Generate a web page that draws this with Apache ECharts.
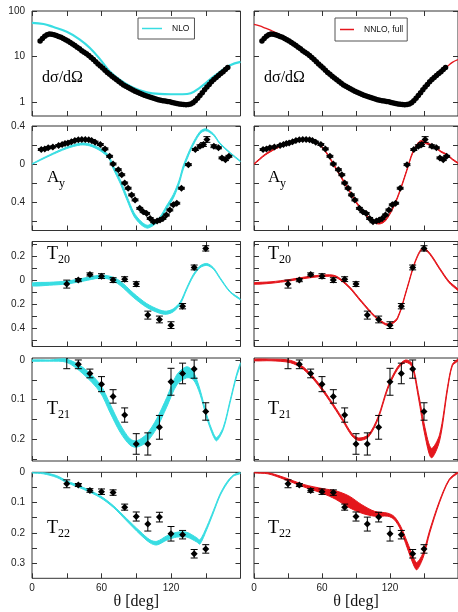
<!DOCTYPE html>
<html>
<head>
<meta charset="utf-8">
<script src="https://cdn.jsdelivr.net/npm/echarts@6/dist/echarts.min.js"></script>
<style>
  html, body { margin: 0; padding: 0; background: #fff; }
  #c { width: 458px; height: 612px; }
</style>
</head>
<body>
<div id="c"></div>
<script>
// ---------------- measured data ----------------
// differential cross section dσ/dΩ
const dsdoTheta = [7,9,11,13,15,17,19,21,23,25,27,29,31,33,35,37,39,41,43,45,47,49,51,53,55,57,59,61,63,65,67,69,71,73,75,77,79,81,83,85,87,89,91,93,95,97,99,101,103,105,107,109,111,113,115,117,119,121,123,125,127,129,131,133,135,137,139,141,143,145,147,149,151,153,155,157,159,161,163,165,167,169];
const dsdoValue = [22,25,28,30,31.5,31,30,29,27.5,26.5,25,23.5,22,20.5,19,17.5,16,14.8,13.5,12.4,11.5,10.6,9.6,8.6,7.7,6.9,6.2,5.6,5.0,4.5,4.1,3.7,3.4,3.1,2.85,2.6,2.4,2.25,2.1,1.98,1.85,1.75,1.65,1.57,1.5,1.43,1.37,1.32,1.27,1.22,1.18,1.14,1.11,1.08,1.06,1.04,1.02,0.99,0.96,0.94,0.92,0.9,0.89,0.88,0.89,0.92,0.98,1.08,1.22,1.4,1.62,1.88,2.15,2.45,2.8,3.15,3.5,3.85,4.25,4.65,5.2,5.8];

// vector analyzing power A_y
const ayTheta = [8,11,14,18,23,26,28.5,31,34,37,40,43,46,49,51.5,54.5,59,63,67,70,74.5,77.5,80,83,86,89,93,96,99,102,105,108,110.5,113,116,119,122,125,129,135,141,145,148,151,157,161,164,167,170];
const ayValue = [0.152,0.159,0.17,0.18,0.194,0.205,0.216,0.222,0.233,0.247,0.254,0.258,0.258,0.254,0.247,0.23,0.205,0.159,0.081,0.0,-0.06,-0.113,-0.2,-0.255,-0.325,-0.378,-0.467,-0.502,-0.52,-0.573,-0.608,-0.6,-0.59,-0.573,-0.537,-0.484,-0.43,-0.413,-0.255,-0.007,0.152,0.187,0.205,0.258,0.187,0.17,0.064,0.046,0.081];
const ayError = [0.01,0.01,0.01,0.01,0.01,0.01,0.01,0.01,0.01,0.01,0.01,0.01,0.01,0.01,0.01,0.01,0.01,0.01,0.01,0.01,0.01,0.01,0.01,0.01,0.01,0.01,0.01,0.01,0.01,0.01,0.01,0.01,0.01,0.01,0.01,0.01,0.01,0.01,0.01,0.01,0.01,0.015,0.02,0.03,0.015,0.01,0.01,0.01,0.01];

// tensor analyzing powers
const polTheta = [30,40,50,60,70,80,90,100,110,120,130,140,150];
const t20Value = [-0.033,0.0,0.047,0.033,0.0,0.008,-0.033,-0.29,-0.326,-0.373,-0.216,0.105,0.263];
const t20Error = [0.033,0.013,0.013,0.02,0.02,0.02,0.02,0.033,0.028,0.028,0.022,0.02,0.022];
const t21Value = [0.006,-0.011,-0.034,-0.061,-0.092,-0.139,-0.212,-0.212,-0.17,-0.055,-0.034,-0.023,-0.13];
const t21Error = [0.028,0.011,0.011,0.019,0.017,0.018,0.026,0.028,0.03,0.034,0.026,0.023,0.022];
const t22Value = [-0.038,-0.042,-0.06,-0.064,-0.067,-0.115,-0.146,-0.171,-0.148,-0.203,-0.206,-0.269,-0.253];
const t22Error = [0.013,0.005,0.006,0.009,0.009,0.01,0.015,0.023,0.016,0.024,0.014,0.014,0.014];

// ---------------- theory: NLO ----------------
const dsdoNloTheta = [0,10,18,30,41,50,59,67,76,87,99,110,120,130,137,145,154,162,171,180];
const dsdoNloValue = [55,52,45,35,24,15.5,8.6,4.8,3.1,2.1,1.65,1.52,1.5,1.5,1.58,2.1,3.2,4.6,6.5,7.7];

const ayNloTheta = [0,15,30,42,50,59,66,70,76,82,88,94,99.5,105,110.5,116,122,127,130.5,137.5,145,150,156.6,162,171,180];
const ayNloLow  = [-0.003,0.084,0.162,0.2,0.19,0.138,0.065,-0.048,-0.2,-0.38,-0.55,-0.638,-0.675,-0.645,-0.585,-0.478,-0.36,-0.21,-0.06,0.155,0.318,0.35,0.302,0.214,0.112,0.024];
const ayNloHigh = [0.003,0.096,0.178,0.22,0.21,0.162,0.095,-0.012,-0.16,-0.34,-0.51,-0.602,-0.645,-0.615,-0.555,-0.442,-0.32,-0.17,-0.02,0.185,0.342,0.37,0.318,0.226,0.122,0.032];

const t20NloTheta = [0,15,30,45,58,67,76,87.5,99,110,116,122,128,133.6,139.3,145,150.9,156.6,162.3,171,180];
const t20NloLow  = [-0.048,-0.042,-0.032,-0.007,0.016,0.007,-0.043,-0.143,-0.226,-0.274,-0.283,-0.262,-0.2,-0.078,0.032,0.102,0.122,0.091,0.012,-0.101,-0.164];
const t20NloHigh = [-0.024,-0.018,-0.008,0.017,0.04,0.033,-0.007,-0.107,-0.194,-0.246,-0.257,-0.238,-0.18,-0.062,0.048,0.118,0.138,0.103,0.022,-0.093,-0.156];

const t21NloTheta = [0,15,30,44,58.7,67.4,76,84.6,90.4,99,107.7,116.3,125,133.6,139.3,145,150.9,156.6,159.5,165.2,171,176.7,180];
const t21NloLow  = [-0.003,-0.003,-0.006,-0.035,-0.081,-0.133,-0.182,-0.215,-0.22,-0.207,-0.172,-0.119,-0.063,-0.045,-0.05,-0.086,-0.147,-0.193,-0.204,-0.175,-0.108,-0.041,-0.013];
const t21NloHigh = [0.0,0.0,0.002,-0.019,-0.061,-0.111,-0.162,-0.199,-0.204,-0.187,-0.148,-0.095,-0.037,-0.017,-0.03,-0.074,-0.139,-0.185,-0.196,-0.169,-0.102,-0.035,-0.007];

const t22NloTheta = [0,9.8,21.3,30,44.3,58.7,70.2,81.8,93.3,101.9,107.7,116.3,125,133.6,142.2,145,150.9,156.6,162.3,168.1,173.8,180];
const t22NloLow  = [-0.002,-0.005,-0.017,-0.034,-0.056,-0.083,-0.116,-0.161,-0.205,-0.233,-0.24,-0.224,-0.214,-0.214,-0.23,-0.237,-0.189,-0.134,-0.078,-0.039,-0.013,-0.004];
const t22NloHigh = [0.0,-0.001,-0.011,-0.028,-0.05,-0.077,-0.11,-0.153,-0.195,-0.223,-0.228,-0.21,-0.198,-0.198,-0.216,-0.223,-0.179,-0.126,-0.072,-0.033,-0.009,0.0];

// ---------------- theory: NNLO, full ----------------
const dsdoNnloTheta = [0,5,10,15,20,30,40,50,60,70,80,90,100,110,120,130,135,140,145,150,155,160,165,170,175,180];
const dsdoNnloValue = [51,47,42,37.5,33,24,15.5,10.1,5.9,3.7,2.4,1.75,1.38,1.16,1.02,0.9,0.89,0.98,1.3,1.85,2.6,3.5,4.6,5.9,7.5,8.6];

const ayNnloTheta = [0,10,20,30,40,45,50,55,60,65,70,75,80,85,90,95,100,105,110,115,120,125,130,135,140,145,148,152,158,165,170,175,180];
const ayNnloLow  = [-0.004,0.094,0.164,0.214,0.249,0.256,0.249,0.224,0.174,0.094,-0.008,-0.108,-0.208,-0.308,-0.408,-0.488,-0.558,-0.61,-0.632,-0.61,-0.528,-0.408,-0.248,-0.068,0.112,0.212,0.232,0.212,0.184,0.125,0.095,0.045,0.006];
const ayNnloHigh = [0.004,0.106,0.176,0.226,0.261,0.268,0.261,0.236,0.186,0.106,0.008,-0.092,-0.192,-0.292,-0.392,-0.472,-0.542,-0.59,-0.608,-0.59,-0.512,-0.392,-0.232,-0.052,0.128,0.228,0.248,0.228,0.196,0.135,0.105,0.055,0.014];

const t20NnloTheta = [0,15,32,45,60.8,72,83.7,95,106.5,115,119.4,126.5,135,142.2,148.8,155,163.7,172,180];
const t20NnloLow  = [-0.034,-0.026,-0.006,0.014,0.03,0.024,-0.061,-0.186,-0.306,-0.366,-0.374,-0.324,-0.076,0.146,0.257,0.214,0.091,-0.02,-0.086];
const t20NnloHigh = [-0.022,-0.014,0.006,0.026,0.042,0.036,-0.049,-0.174,-0.294,-0.354,-0.362,-0.312,-0.064,0.158,0.269,0.226,0.103,-0.008,-0.074];

const t21NnloTheta = [0,15,32.3,43.7,55.1,66.6,78,86.5,92.3,100.8,109.4,118,126.6,133.7,139.4,145,150.8,156.5,163.7,170.8,175,180];
const t21NnloLow  = [-0.002,-0.002,-0.007,-0.024,-0.058,-0.103,-0.153,-0.192,-0.203,-0.195,-0.15,-0.074,-0.024,-0.006,-0.017,-0.094,-0.19,-0.247,-0.205,-0.075,-0.015,-0.002];
const t21NnloHigh = [0.002,0.002,-0.001,-0.018,-0.052,-0.097,-0.147,-0.186,-0.197,-0.189,-0.144,-0.068,-0.018,0.0,-0.009,-0.082,-0.17,-0.223,-0.189,-0.067,-0.011,0.002];

const t22NnloTheta = [0,12.3,26.6,43.7,60.8,72,83.7,95.1,106.5,118,123.7,129.4,135.1,140.8,143.7,149.4,155.1,163.7,172.2,180];
const t22NnloLow  = [-0.002,-0.005,-0.023,-0.048,-0.07,-0.089,-0.116,-0.135,-0.145,-0.145,-0.156,-0.19,-0.249,-0.306,-0.322,-0.28,-0.2,-0.1,-0.027,-0.002];
const t22NnloHigh = [0.002,-0.001,-0.017,-0.04,-0.054,-0.061,-0.078,-0.107,-0.129,-0.135,-0.146,-0.178,-0.229,-0.282,-0.298,-0.264,-0.19,-0.094,-0.023,0.002];

// ---------------- appearance ----------------
const NLO_COLOR = '#38dde2';
const NNLO_COLOR = '#e4161c';
const FRAME = '#333';
const SANS = '"Liberation Sans", Arial, sans-serif';
const SERIF = '"Liberation Serif", "Times New Roman", serif';

const COLS = [
  { left: 32, width: 208.5, name: 'NLO', color: NLO_COLOR, labels: true },
  { left: 254, width: 210, name: 'NNLO, full', color: NNLO_COLOR, labels: false }
];

const fmtAbs = v => { const a = Math.abs(v); return a < 1e-9 ? '0' : String(+a.toFixed(2)); };

const ROWS = [
  { top: 11, height: 105, log: true, min: 0.5, max: 100, ticks: [1, 10, 100], labels: [1, 10, 100],
    main: 'dσ/dΩ', sub: '', size: 16, labelY: 70 },
  { top: 126, height: 104.5, min: -0.7, max: 0.4, ticks: [-0.6,-0.4,-0.2,0,0.2,0.4], labels: [-0.4,0,0.4],
    main: 'A', sub: 'y', size: 17, labelY: 169 },
  { top: 241.5, height: 105, min: -0.55, max: 0.32, ticks: [-0.5,-0.4,-0.3,-0.2,-0.1,0,0.1,0.2,0.3], labels: [-0.4,-0.2,0,0.2],
    main: 'T', sub: '20', size: 18, labelY: 245 },
  { top: 358, height: 103, min: -0.255, max: 0.005, ticks: [-0.25,-0.2,-0.15,-0.1,-0.05,0], labels: [-0.2,-0.1,0],
    main: 'T', sub: '21', size: 18, labelY: 400 },
  { top: 472.3, height: 106, min: -0.35, max: 0, ticks: [-0.3,-0.25,-0.2,-0.15,-0.1,-0.05,0], labels: [-0.3,-0.2,-0.1,0],
    main: 'T', sub: '22', size: 18, labelY: 519 }
];

// theory and data per row: [left column, right column]
const THEORY = [
  [{ line: [dsdoNloTheta, dsdoNloValue] }, { line: [dsdoNnloTheta, dsdoNnloValue] }],
  [{ band: [ayNloTheta, ayNloLow, ayNloHigh] }, { band: [ayNnloTheta, ayNnloLow, ayNnloHigh] }],
  [{ band: [t20NloTheta, t20NloLow, t20NloHigh] }, { band: [t20NnloTheta, t20NnloLow, t20NnloHigh] }],
  [{ band: [t21NloTheta, t21NloLow, t21NloHigh] }, { band: [t21NnloTheta, t21NnloLow, t21NnloHigh] }],
  [{ band: [t22NloTheta, t22NloLow, t22NloHigh] }, { band: [t22NnloTheta, t22NnloLow, t22NnloHigh] }]
];
const DATA = [
  { theta: dsdoTheta, value: dsdoValue, error: null, symbol: 'circle', size: 5.5 },
  { theta: ayTheta, value: ayValue, error: ayError, symbol: 'diamond', size: 7 },
  { theta: polTheta, value: t20Value, error: t20Error, symbol: 'diamond', size: 7 },
  { theta: polTheta, value: t21Value, error: t21Error, symbol: 'diamond', size: 7 },
  { theta: polTheta, value: t22Value, error: t22Error, symbol: 'diamond', size: 7 }
];

const grid = [], xAxis = [], yAxis = [], series = [], graphic = [];

function clipRect(params) {
  const cs = params.coordSys;
  return { type: 'rect', shape: { x: cs.x, y: cs.y, width: cs.width, height: cs.height } };
}

function bandRenderer(theta, low, high, color) {
  return function (params, api) {
    if (params.dataIndex !== 0) return null;
    const pts = [];
    for (let i = 0; i < theta.length; i++) pts.push(api.coord([theta[i], high[i]]));
    for (let i = theta.length - 1; i >= 0; i--) pts.push(api.coord([theta[i], low[i]]));
    return {
      type: 'polygon',
      shape: { points: pts, smooth: 0.3 },
      style: { fill: color, stroke: color, lineWidth: 1 },
      clipPath: clipRect(params)
    };
  };
}

function errorBarRenderer(params, api) {
  const x = api.value(0), y = api.value(1), e = api.value(2);
  const a = api.coord([x, y + e]), b = api.coord([x, y - e]);
  const hw = 3.5;
  const st = { stroke: '#000', lineWidth: 1 };
  return {
    type: 'group',
    clipPath: clipRect(params),
    children: [
      { type: 'line', shape: { x1: a[0], y1: a[1], x2: b[0], y2: b[1] }, style: st },
      { type: 'line', shape: { x1: a[0] - hw, y1: a[1], x2: a[0] + hw, y2: a[1] }, style: st },
      { type: 'line', shape: { x1: b[0] - hw, y1: b[1], x2: b[0] + hw, y2: b[1] }, style: st }
    ]
  };
}

ROWS.forEach((row, r) => {
  const isBottom = r === ROWS.length - 1;
  COLS.forEach((col, c) => {
    const g = grid.length;
    grid.push({
      left: col.left, top: row.top, width: col.width, height: row.height,
      show: true, borderColor: FRAME, borderWidth: 1, backgroundColor: 'transparent'
    });
    const tickStyle = { inside: true, length: 5, lineStyle: { color: FRAME, width: 1 } };
    xAxis.push({
      gridIndex: g, type: 'value', min: 0, max: 180, interval: 30, position: 'bottom',
      axisLine: { show: false, onZero: false }, splitLine: { show: false }, axisTick: tickStyle,
      axisLabel: isBottom
        ? { customValues: [0, 60, 120], fontSize: 10, fontFamily: SANS, color: '#222', margin: 5 }
        : { show: false },
      name: isBottom ? 'θ [deg]' : '',
      nameLocation: 'middle', nameGap: 14,
      nameTextStyle: { fontFamily: SERIF, fontSize: 16, color: '#111' }
    });
    xAxis.push({
      gridIndex: g, type: 'value', min: 0, max: 180, interval: 30, position: 'top',
      axisLine: { show: false, onZero: false }, splitLine: { show: false }, axisTick: tickStyle,
      axisLabel: { show: false }
    });
    const yBase = {
      gridIndex: g, type: row.log ? 'log' : 'value', min: row.min, max: row.max,
      axisLine: { show: false, onZero: false }, splitLine: { show: false },
      axisTick: Object.assign({ customValues: row.ticks }, tickStyle)
    };
    if (row.log) yBase.logBase = 10;
    yAxis.push(Object.assign({}, yBase, {
      position: 'left',
      axisLabel: col.labels
        ? { customValues: row.labels, formatter: row.log ? (v => String(Math.round(v))) : fmtAbs,
            fontSize: 10, fontFamily: SANS, color: '#222', margin: 7 }
        : { show: false }
    }));
    yAxis.push(Object.assign({}, yBase, { position: 'right', axisLabel: { show: false } }));

    const xi = 2 * g, yi = 2 * g;
    const th = THEORY[r][c];
    if (th.line) {
      series.push({
        name: col.name, type: 'line', xAxisIndex: xi, yAxisIndex: yi,
        data: th.line[0].map((t, i) => [t, th.line[1][i]]),
        smooth: 0.4, showSymbol: false, symbol: 'none',
        itemStyle: { color: col.color },
        lineStyle: { color: col.color, width: c === 0 ? 2.2 : 1.3 },
        z: 2, silent: true
      });
    } else {
      const [bt, bl, bh] = th.band;
      series.push({
        name: col.name, type: 'custom', xAxisIndex: xi, yAxisIndex: yi,
        data: bt.map((t, i) => [t, bl[i], bh[i]]),
        encode: { x: 0, y: [1, 2] },
        renderItem: bandRenderer(bt, bl, bh, col.color),
        itemStyle: { color: col.color },
        z: 2, silent: true
      });
    }

    const d = DATA[r];
    if (d.error) {
      series.push({
        name: 'error', type: 'custom', xAxisIndex: xi, yAxisIndex: yi,
        data: d.theta.map((t, i) => [t, d.value[i], d.error[i]]),
        encode: { x: 0, y: 1 },
        renderItem: errorBarRenderer, z: 3, silent: true
      });
    }
    series.push({
      name: 'data', type: 'scatter', xAxisIndex: xi, yAxisIndex: yi,
      data: d.theta.map((t, i) => [t, d.value[i]]),
      symbol: d.symbol, symbolSize: d.size,
      itemStyle: { color: '#000', opacity: 1, borderWidth: 0 }, z: 4, silent: true
    });

    // panel label
    const lx = col.left + (c === 0 ? (r === 0 ? 10 : 15) : (r === 0 ? 10 : 14));
    graphic.push({
      type: 'text', x: lx, y: row.labelY, silent: true,
      style: { text: row.main, fontFamily: SERIF, fontSize: row.size, fill: '#000', verticalAlign: 'top' }
    });
    if (row.sub) {
      graphic.push({
        type: 'text', x: lx + (row.main === 'A' ? 12 : 11), y: row.labelY + 9, silent: true,
        style: { text: row.sub, fontFamily: SERIF, fontSize: 12, fill: '#000', verticalAlign: 'top' }
      });
    }
  });
});

const legendCommon = {
  orient: 'horizontal', icon: 'rect', itemHeight: 1.5,
  borderColor: '#555', borderWidth: 1, selectedMode: false,
  textStyle: { fontSize: 8.5, fontFamily: SANS, color: '#111', padding: [0, 0, 0, 5] }
};
const option = {
  animation: false,
  backgroundColor: '#fff',
  grid, xAxis, yAxis, series, graphic,
  legend: [
    Object.assign({}, legendCommon, { data: ['NLO'], left: 138, top: 18, itemWidth: 20, padding: [6, 5, 6, 4] }),
    Object.assign({}, legendCommon, { data: ['NNLO, full'], left: 335, top: 18, itemWidth: 14, padding: [7, 4, 7, 5] })
  ]
};

const chart = echarts.init(document.getElementById('c'), null, { renderer: 'canvas' });
chart.setOption(option);
</script>
</body>
</html>
